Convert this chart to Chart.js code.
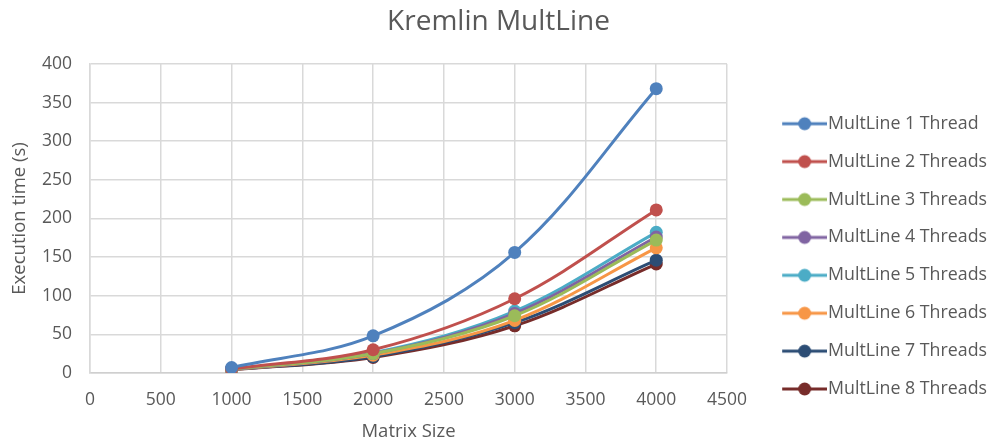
<!DOCTYPE html>
<html>
<head>
<meta charset="utf-8">
<title>Kremlin MultLine</title>
<script src="https://cdn.jsdelivr.net/npm/chart.js@4/dist/chart.umd.min.js"></script>
<style>
  html, body { margin: 0; padding: 0; background: #ffffff; }
  #wrap { width: 994px; height: 441px; }
</style>
</head>
<body>
<div id="wrap"><canvas id="chart" width="994" height="441"></canvas></div>
<script>
// Matrix sizes measured (x values)
const matrixSizes = [1000, 2000, 3000, 4000];

// Execution time in seconds for each thread count
const threads1 = [7, 48, 156, 368];
const threads2 = [5, 30, 96, 211];
const threads3 = [4.5, 25, 74, 172];
const threads4 = [4.5, 25, 77, 176];
const threads5 = [4.5, 26, 80, 182];
const threads6 = [4, 23, 68, 162];
const threads7 = [4, 21, 65, 146];
const threads8 = [4, 20, 61, 141];

const seriesNames = [
  'MultLine 1 Thread', 'MultLine 2 Threads', 'MultLine 3 Threads', 'MultLine 4 Threads',
  'MultLine 5 Threads', 'MultLine 6 Threads', 'MultLine 7 Threads', 'MultLine 8 Threads'
];
const seriesValues = [threads1, threads2, threads3, threads4, threads5, threads6, threads7, threads8];
const seriesColors = ['#4F81BD', '#C0504D', '#9BBB59', '#8064A2', '#4BACC6', '#F79646', '#2C4D75', '#772C2A'];

// Axis tick settings
const xTicks = { min: 0, max: 4500, step: 500 };
const yTicks = { min: 0, max: 400, step: 50 };

const FONT = "'Open Sans', 'DejaVu Sans', sans-serif";
const TEXT = '#595959';
const GRID = '#d9d9d9';

// Legend marker: short line with a dot, offset to the right inside its canvas
const MARK_W = 72;
function legendMarker(color) {
  const c = document.createElement('canvas');
  c.width = 88; c.height = 16;
  const g = c.getContext('2d');
  g.strokeStyle = color;
  g.lineWidth = 3;
  g.beginPath();
  g.moveTo(c.width - 45, 8);
  g.lineTo(c.width, 8);
  g.stroke();
  g.fillStyle = color;
  g.beginPath();
  g.arc(c.width - 22.5, 8, 6.5, 0, Math.PI * 2);
  g.fill();
  return c;
}
const markers = seriesColors.map(legendMarker);

const datasets = seriesNames.map((name, i) => ({
  label: name,
  data: matrixSizes.map((x, j) => ({ x: x, y: seriesValues[i][j] })),
  borderColor: seriesColors[i],
  backgroundColor: seriesColors[i],
  pointBackgroundColor: seriesColors[i],
  pointBorderColor: seriesColors[i],
  borderWidth: 3,
  pointRadius: 6.5,
  pointHoverRadius: 6.5,
  pointBorderWidth: 0,
  tension: 0.35,
  fill: false
}));

new Chart(document.getElementById('chart'), {
  type: 'line',
  data: { datasets: datasets },
  options: {
    responsive: false,
    animation: false,
    events: [],
    layout: { padding: { left: 0, right: -3, top: 0, bottom: 0 } },
    plugins: {
      title: {
        display: true,
        text: 'Kremlin MultLine',
        color: TEXT,
        font: { family: FONT, size: 28, weight: 'normal' },
        padding: { top: 5.2, bottom: 25.2 }
      },
      legend: {
        position: 'right',
        align: 'center',
        maxWidth: 300,
        title: {
          display: true,
          text: ' ',
          font: { family: FONT, size: 10 },
          padding: { top: 59.7, bottom: 0 }
        },
        labels: {
          usePointStyle: true,
          pointStyleWidth: MARK_W,
          padding: 20.1,
          color: TEXT,
          font: { family: FONT, size: 17.8 },
          generateLabels: (chart) => {
            const items = Chart.defaults.plugins.legend.labels.generateLabels(chart);
            items.forEach((it) => { it.pointStyle = markers[it.datasetIndex]; });
            return items;
          }
        }
      },
      tooltip: { enabled: false }
    },
    scales: {
      x: {
        type: 'linear',
        min: xTicks.min,
        max: xTicks.max,
        ticks: {
          stepSize: xTicks.step,
          padding: 16.8,
          color: TEXT,
          font: { family: FONT, size: 17.5 },
          maxRotation: 0,
          callback: (v) => String(v)
        },
        grid: { color: GRID, lineWidth: 1.5, drawTicks: false },
        border: { color: '#cfcfcf', width: 1.5 },
        title: {
          display: true,
          text: 'Matrix Size',
          color: TEXT,
          font: { family: FONT, size: 18.5 },
          padding: { top: -6.7, bottom: -2 }
        }
      },
      y: {
        type: 'linear',
        min: yTicks.min,
        max: yTicks.max,
        ticks: {
          stepSize: yTicks.step,
          padding: 18,
          color: TEXT,
          font: { family: FONT, size: 17.5 },
          callback: (v) => String(v)
        },
        grid: { color: GRID, lineWidth: 1.5, drawTicks: false },
        border: { color: GRID, width: 1.5 },
        title: {
          display: true,
          text: 'Execution time (s)',
          color: TEXT,
          font: { family: FONT, size: 18.5 },
          padding: { top: 8.9, bottom: -7.1 }
        }
      }
    }
  }
});
</script>
</body>
</html>
